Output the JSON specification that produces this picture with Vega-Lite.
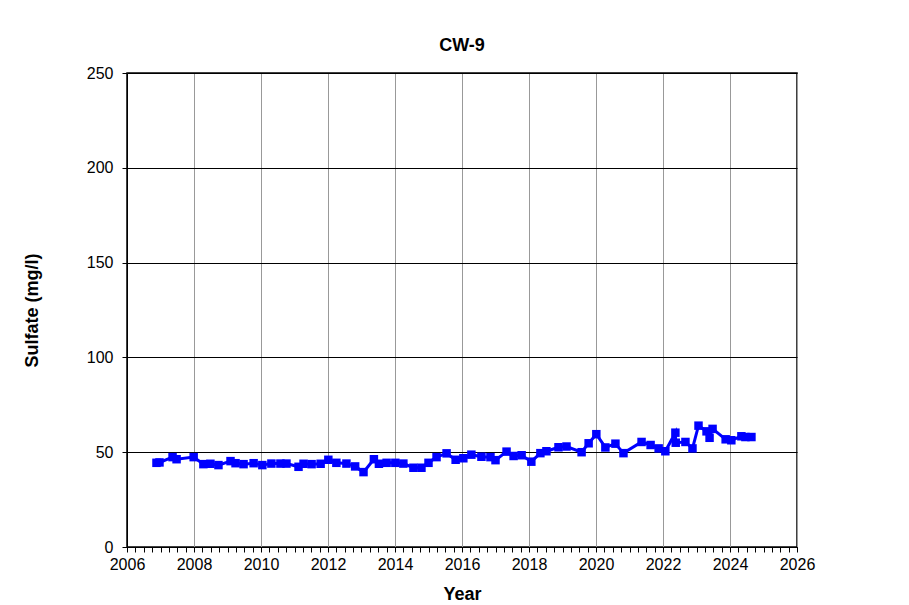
{
  "$schema": "https://vega.github.io/schema/vega-lite/v6.json",
  "autosize": "none",
  "width": 670,
  "height": 474,
  "padding": {"left": 127, "top": 73, "right": 112, "bottom": 58},
  "background": "white",
  "title": {"text": "CW-9", "font": "Liberation Sans", "fontSize": 18, "fontWeight": "bold", "color": "#000", "offset": 10, "anchor": "middle"},
  "config": {
    "view": {"stroke": "#000", "strokeWidth": 1.5},
    "axis": {"labelFont": "Liberation Sans", "labelFontSize": 16, "labelColor": "#000", "titleFont": "Liberation Sans", "titleFontSize": 18, "titleFontWeight": "bold", "titleColor": "#000", "domainColor": "#000", "tickColor": "#000"}
  },
  "data": {"values": [
    {"t": 2006.88, "v": 44.4}, {"t": 2006.97, "v": 44.6}, {"t": 2007.36, "v": 47.4}, {"t": 2007.48, "v": 46.3},
    {"t": 2007.99, "v": 47.4}, {"t": 2008.28, "v": 43.7}, {"t": 2008.49, "v": 43.9}, {"t": 2008.73, "v": 43.2},
    {"t": 2009.09, "v": 45.3}, {"t": 2009.24, "v": 44.2}, {"t": 2009.48, "v": 43.7}, {"t": 2009.78, "v": 44.2},
    {"t": 2010.04, "v": 43.2}, {"t": 2010.31, "v": 44.0}, {"t": 2010.58, "v": 44.0}, {"t": 2010.76, "v": 44.0},
    {"t": 2011.12, "v": 42.3}, {"t": 2011.27, "v": 43.9}, {"t": 2011.51, "v": 43.7}, {"t": 2011.78, "v": 43.9},
    {"t": 2012.01, "v": 46.0}, {"t": 2012.25, "v": 44.4}, {"t": 2012.55, "v": 44.0}, {"t": 2012.81, "v": 42.5},
    {"t": 2013.06, "v": 39.5}, {"t": 2013.37, "v": 46.3}, {"t": 2013.52, "v": 43.9}, {"t": 2013.75, "v": 44.4},
    {"t": 2014.01, "v": 44.4}, {"t": 2014.25, "v": 44.0}, {"t": 2014.55, "v": 41.8}, {"t": 2014.79, "v": 41.8},
    {"t": 2015.0, "v": 44.4}, {"t": 2015.24, "v": 47.4}, {"t": 2015.54, "v": 49.4}, {"t": 2015.81, "v": 46.0},
    {"t": 2016.04, "v": 46.8}, {"t": 2016.28, "v": 48.7}, {"t": 2016.58, "v": 47.6}, {"t": 2016.85, "v": 47.4},
    {"t": 2017.0, "v": 45.8}, {"t": 2017.33, "v": 50.3}, {"t": 2017.54, "v": 48.0}, {"t": 2017.78, "v": 48.4},
    {"t": 2018.07, "v": 45.0}, {"t": 2018.34, "v": 49.5}, {"t": 2018.52, "v": 50.5}, {"t": 2018.88, "v": 52.6},
    {"t": 2019.12, "v": 53.0}, {"t": 2019.57, "v": 50.0}, {"t": 2019.78, "v": 54.7}, {"t": 2020.01, "v": 59.5},
    {"t": 2020.28, "v": 52.5}, {"t": 2020.58, "v": 54.5}, {"t": 2020.82, "v": 49.5}, {"t": 2021.36, "v": 55.4},
    {"t": 2021.63, "v": 53.8}, {"t": 2021.87, "v": 52.0}, {"t": 2022.07, "v": 50.5}, {"t": 2022.37, "v": 60.3},
    {"t": 2022.38, "v": 55.0}, {"t": 2022.67, "v": 55.4}, {"t": 2022.88, "v": 52.0}, {"t": 2023.06, "v": 64.0},
    {"t": 2023.3, "v": 61.0}, {"t": 2023.39, "v": 57.6}, {"t": 2023.48, "v": 62.3}, {"t": 2023.87, "v": 56.8},
    {"t": 2024.04, "v": 56.3}, {"t": 2024.34, "v": 58.4}, {"t": 2024.46, "v": 58.0}, {"t": 2024.64, "v": 58.0}
  ]},
  "mark": {"type": "line", "color": "#0000FF", "strokeWidth": 3, "point": {"shape": "square", "size": 72, "filled": true, "color": "#0000FF", "opacity": 1}},
  "encoding": {
    "x": {
      "field": "t", "type": "quantitative",
      "scale": {"domain": [2006, 2026], "nice": false, "zero": false},
      "axis": {
        "title": "Year",
        "values": [2006,2006.25,2006.5,2006.75,2007,2007.25,2007.5,2007.75,2008,2008.25,2008.5,2008.75,2009,2009.25,2009.5,2009.75,2010,2010.25,2010.5,2010.75,2011,2011.25,2011.5,2011.75,2012,2012.25,2012.5,2012.75,2013,2013.25,2013.5,2013.75,2014,2014.25,2014.5,2014.75,2015,2015.25,2015.5,2015.75,2016,2016.25,2016.5,2016.75,2017,2017.25,2017.5,2017.75,2018,2018.25,2018.5,2018.75,2019,2019.25,2019.5,2019.75,2020,2020.25,2020.5,2020.75,2021,2021.25,2021.5,2021.75,2022,2022.25,2022.5,2022.75,2023,2023.25,2023.5,2023.75,2024,2024.25,2024.5,2024.75,2025,2025.25,2025.5,2025.75,2026],
        "labelExpr": "datum.value % 2 === 0 ? format(datum.value, 'd') : ''",
        "labelOverlap": false,
        "labelFlush": false,
        "labelPadding": 4,
        "tickSize": 5,
        "grid": true,
        "gridColor": "#999999",
        "gridWidth": 1,
        "gridOpacity": {"condition": {"test": "datum.value % 2 === 0", "value": 1}, "value": 0},
        "titlePadding": 13
      }
    },
    "y": {
      "field": "v", "type": "quantitative",
      "scale": {"domain": [0, 250], "nice": false},
      "axis": {
        "title": "Sulfate (mg/l)",
        "values": [0, 50, 100, 150, 200, 250],
        "format": "d",
        "tickSize": 5,
        "labelPadding": 9,
        "grid": true,
        "gridColor": "#000000",
        "gridWidth": 1,
        "titlePadding": 45
      }
    }
  }
}
